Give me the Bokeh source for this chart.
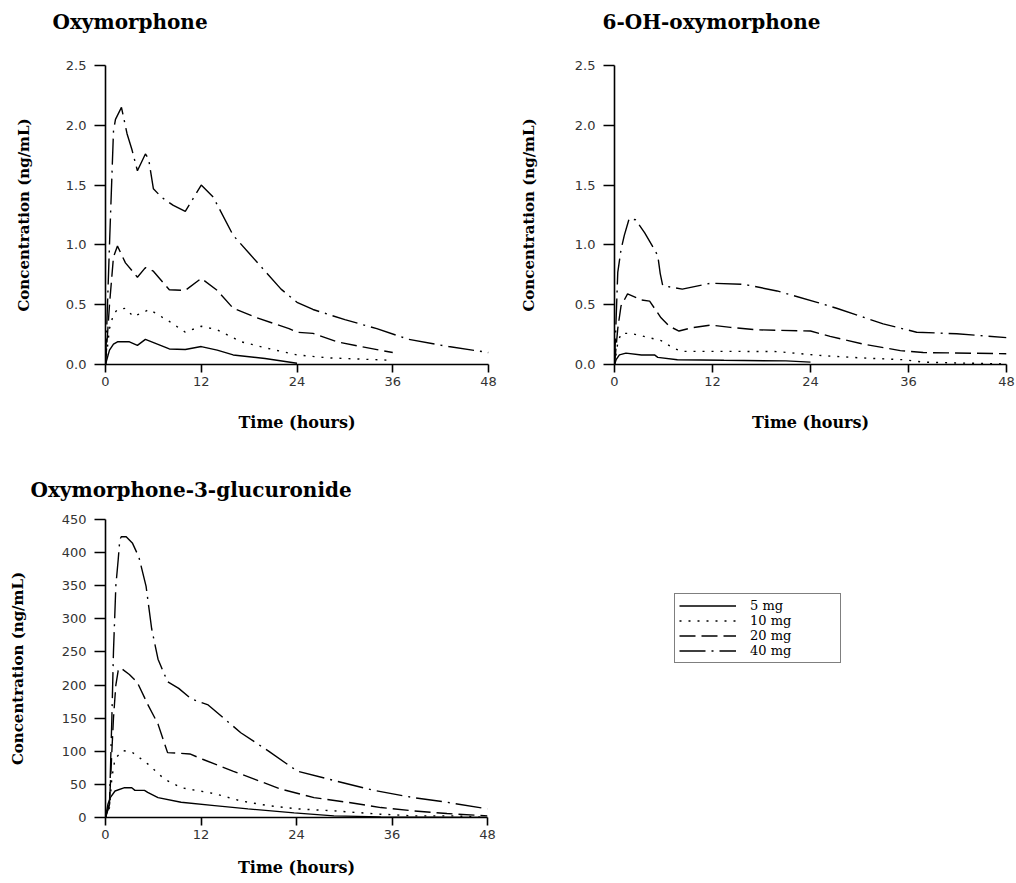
from bokeh.plotting import figure
from bokeh.layouts import row, column
from bokeh.models import Range1d, FixedTicker, PrintfTickFormatter, Legend, LegendItem, Title
from bokeh.embed import file_html
from bokeh.resources import INLINE

# ---------------- data ----------------
doses = ["5 mg", "10 mg", "20 mg", "40 mg"]
x_ticks = [0, 12, 24, 36, 48]

# Oxymorphone (ng/mL)
oxy_t_5 = [0, 0.5, 1, 1.5, 3, 4, 5, 6.5, 8, 10, 12, 14, 16, 20, 24]
oxy_c_5 = [0, 0.12, 0.17, 0.19, 0.19, 0.16, 0.21, 0.17, 0.13, 0.125, 0.15, 0.12, 0.08, 0.05, 0.01]
oxy_t_10 = [0, 0.5, 1, 1.5, 2.5, 3.5, 5.5, 8, 10, 12, 14, 17, 20, 24, 28, 32, 36]
oxy_c_10 = [0, 0.3, 0.42, 0.46, 0.47, 0.40, 0.46, 0.36, 0.27, 0.32, 0.29, 0.19, 0.14, 0.08, 0.055, 0.045, 0.035]
oxy_t_20 = [0, 0.5, 1, 1.5, 2.5, 4, 5, 6, 8, 10, 12, 14, 16, 19, 23, 24, 26, 29, 32, 36]
oxy_c_20 = [0, 0.5, 0.9, 0.99, 0.85, 0.73, 0.81, 0.78, 0.625, 0.62, 0.72, 0.62, 0.47, 0.39, 0.30, 0.27, 0.26, 0.19, 0.15, 0.10]
oxy_t_40 = [0, 0.5, 1, 1.25, 2, 2.7, 3.3, 4, 5, 5.4, 6, 7, 8.5, 10, 12, 13.5, 16, 18, 22, 24, 26, 30, 34, 38, 43, 48]
oxy_c_40 = [0, 1.0, 1.95, 2.05, 2.15, 1.93, 1.80, 1.62, 1.76, 1.72, 1.47, 1.40, 1.33, 1.28, 1.50, 1.40, 1.08, 0.93, 0.63, 0.52, 0.46, 0.375, 0.30, 0.21, 0.15, 0.10]

# 6-OH-oxymorphone (ng/mL)
oh_t_5 = [0, 0.2, 0.6, 1.4, 3.3, 4.9, 5.3, 7.7, 13.4, 21, 24]
oh_c_5 = [0, 0.04, 0.08, 0.095, 0.08, 0.08, 0.06, 0.04, 0.035, 0.03, 0.02]
oh_t_10 = [0, 0.4, 0.8, 2, 3.3, 5.7, 6.9, 8.1, 13.4, 19.9, 25.6, 30.5, 35.4, 37.8, 41.9, 47.6]
oh_c_10 = [0, 0.18, 0.26, 0.26, 0.24, 0.20, 0.15, 0.11, 0.11, 0.108, 0.073, 0.054, 0.04, 0.02, 0.013, 0.005]
oh_t_20 = [0, 0.4, 0.8, 1.6, 3.3, 4.3, 5.7, 6.7, 7.9, 9.3, 11.8, 14.2, 17.5, 24, 26.4, 30.5, 35, 37.8, 48]
oh_c_20 = [0, 0.3, 0.49, 0.59, 0.54, 0.53, 0.39, 0.32, 0.28, 0.305, 0.33, 0.31, 0.29, 0.28, 0.235, 0.17, 0.116, 0.10, 0.09]
oh_t_40 = [0, 0.4, 0.8, 1.2, 1.8, 2.6, 3.7, 4.9, 5.3, 5.6, 5.9, 8.3, 11.8, 15.9, 19.9, 24.8, 27.2, 32.9, 37, 41.9, 48]
oh_c_40 = [0, 0.77, 0.96, 1.08, 1.22, 1.21, 1.10, 0.96, 0.91, 0.76, 0.66, 0.63, 0.68, 0.67, 0.615, 0.52, 0.47, 0.34, 0.27, 0.257, 0.225]

# Oxymorphone-3-glucuronide (ng/mL)
glu_t_5 = [0, 0.3, 0.6, 1.2, 2.4, 3.3, 3.7, 4.9, 5.3, 6.6, 9.5, 13.7, 17.9, 23.7, 28.7, 34.6, 48]
glu_c_5 = [0, 20, 30, 40, 45, 45, 41, 41, 38, 30, 23, 18, 13, 7, 2.5, 1, 0]
glu_t_10 = [0, 0.5, 0.8, 1.2, 2.2, 3.3, 5.3, 7.4, 9.5, 13.7, 17, 20.4, 24.1, 28.7, 34.6, 38.7, 44, 48]
glu_c_10 = [0, 15, 60, 89, 101, 99, 81, 58, 45, 36, 25, 18, 13, 10, 5, 2.5, 2.5, 0]
glu_t_20 = [0, 0.5, 0.8, 1.0, 1.3, 1.6, 1.9, 3, 4, 5.3, 6.6, 7.8, 10.6, 12.2, 16, 18.7, 22, 26.2, 30.4, 34.6, 38.7, 42.9, 48]
glu_c_20 = [0, 20, 100, 150, 200, 222, 226, 216, 204, 171, 141, 98, 96, 88, 70, 58, 43, 30, 23, 15, 10, 6, 2.5]
glu_t_40 = [0, 0.5, 0.8, 1.0, 1.3, 1.6, 1.8, 2.0, 2.6, 3.4, 4.2, 5.1, 5.8, 6.6, 7.8, 9.2, 10.8, 12.9, 17, 20.4, 24.1, 29, 33.7, 38.7, 42.9, 48]
glu_c_40 = [0, 20, 150, 250, 350, 390, 420, 424, 424, 414, 393, 349, 285, 239, 205, 195, 179, 170, 128, 101, 70, 55, 41, 30, 23, 13]

oxy_y_ticks = [0, 0.5, 1.0, 1.5, 2.0, 2.5]
glu_y_ticks = [0, 50, 100, 150, 200, 250, 300, 350, 400, 450]

# ---------------- styling ----------------
DASHES = ["solid", "2 7", "16 6", "26 6 2 6"]
SERIF = "DejaVu Serif"
SANS = "DejaVu Sans"


def panel(title, series, y_end, y_ticks, y_fmt, width, height, borders,
          title_offset, title_standoff, spacer, ylab_standoff, xlab_standoff):
    left, right, top, bottom = borders
    p = figure(width=width, height=height, output_backend="svg", toolbar_location=None,
               x_range=Range1d(0, 48), y_range=Range1d(0, y_end),
               min_border_left=left, min_border_right=right,
               min_border_top=top, min_border_bottom=bottom)
    if spacer is not None:
        # blank band between the frame and the title (pushes the title upward)
        p.add_layout(Title(text=" ", text_font=SERIF, text_font_size="20px",
                           standoff=spacer), "above")
    p.add_layout(Title(text=title, align="left", offset=title_offset, standoff=title_standoff,
                       text_font=SERIF, text_font_size="20px", text_font_style="bold",
                       text_color="black"), "above")
    p.outline_line_color = None
    p.grid.grid_line_color = None
    p.background_fill_color = "white"
    p.border_fill_color = "white"
    for ax in (p.xaxis[0], p.yaxis[0]):
        ax.axis_line_width = 1.6
        ax.axis_line_color = "black"
        ax.major_tick_line_width = 1.6
        ax.major_tick_line_color = "black"
        ax.major_tick_in = 0
        ax.minor_tick_line_color = None
        ax.major_label_text_font = SANS
        ax.major_label_text_font_size = "13px"
        ax.major_label_text_color = "#333333"
        ax.axis_label_text_font = SERIF
        ax.axis_label_text_font_style = "bold"
        ax.axis_label_text_color = "black"
    p.xaxis[0].ticker = FixedTicker(ticks=x_ticks)
    p.xaxis[0].major_tick_out = 8
    p.xaxis[0].major_label_standoff = 4
    p.xaxis[0].axis_label = "Time (hours)"
    p.xaxis[0].axis_label_text_font_size = "16px"
    p.xaxis[0].axis_label_standoff = xlab_standoff
    p.yaxis[0].ticker = FixedTicker(ticks=y_ticks)
    p.yaxis[0].formatter = PrintfTickFormatter(format=y_fmt)
    p.yaxis[0].major_tick_out = 11
    p.yaxis[0].major_label_standoff = 8
    p.yaxis[0].axis_label = "Concentration (ng/mL)"
    p.yaxis[0].axis_label_text_font_size = "15px"
    p.yaxis[0].axis_label_standoff = ylab_standoff
    for (t, c), dash in zip(series, DASHES):
        p.line(t, c, line_color="black", line_width=1.4, line_dash=dash)
    return p


oxy_series = [(oxy_t_5, oxy_c_5), (oxy_t_10, oxy_c_10), (oxy_t_20, oxy_c_20), (oxy_t_40, oxy_c_40)]
oh_series = [(oh_t_5, oh_c_5), (oh_t_10, oh_c_10), (oh_t_20, oh_c_20), (oh_t_40, oh_c_40)]
glu_series = [(glu_t_5, glu_c_5), (glu_t_10, glu_c_10), (glu_t_20, glu_c_20), (glu_t_40, glu_c_40)]

p1 = panel("Oxymorphone", oxy_series, 2.5, oxy_y_ticks, "%.1f",
           510, 445, (105, 22, 65, 80), -53, 0, 6, 30, 24)
p2 = panel("6-OH-oxymorphone", oh_series, 2.5, oxy_y_ticks, "%.1f",
           506, 445, (104, 10, 65, 81), -12, 0, 6, 34, 24)
p3 = panel("Oxymorphone-3-glucuronide", glu_series, 450, glu_y_ticks, "%d",
           510, 438, (105, 23, 74, 66), -75, 36, None, 32, 16)

# legend panel (sample lines are hidden; the legend still draws their glyphs)
pl = figure(width=506, height=438, output_backend="svg", toolbar_location=None,
            x_range=Range1d(0, 48), y_range=Range1d(0, 450),
            min_border=0)
pl.axis.visible = False
pl.grid.grid_line_color = None
pl.outline_line_color = None
items = []
for name, (t, c), dash in zip(doses, glu_series, DASHES):
    r = pl.line(t, c, line_color="black", line_width=1.4, line_dash=dash)
    r.visible = False
    items.append(LegendItem(label=name, renderers=[r]))
legend = Legend(items=items, location=(164, 154), orientation="vertical",
                border_line_color="black", border_line_width=1.2,
                padding=4, spacing=0, margin=0,
                glyph_width=57, glyph_height=15, label_height=15,
                label_standoff=14, label_width=86,
                label_text_font=SERIF, label_text_font_size="13px",
                label_text_color="black", background_fill_color="white",
                inactive_fill_alpha=0.0, click_policy="none")
pl.add_layout(legend, "center")

layout = column(row(p1, p2), row(p3, pl))
open("out.html", "w").write(file_html(layout, INLINE))
